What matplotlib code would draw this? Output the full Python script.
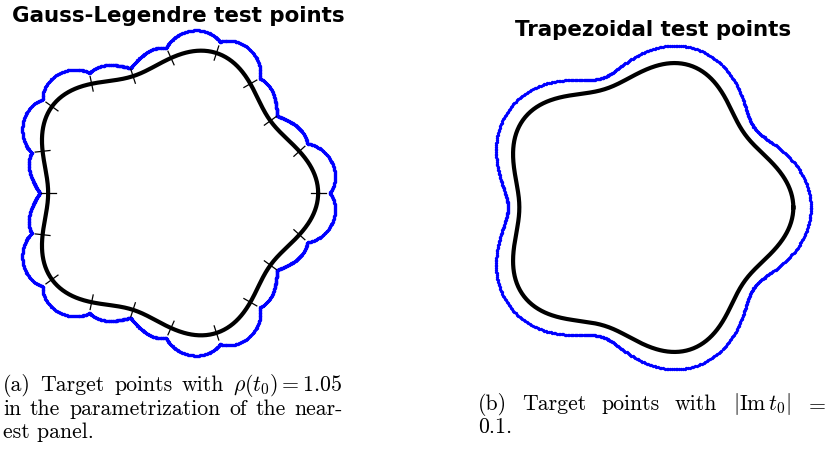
import matplotlib
matplotlib.use("Agg")
import matplotlib.pyplot as plt
import numpy as np
from matplotlib.path import Path
from matplotlib.transforms import Affine2D

# curve z(t) = (1 + amp*cos(lobes*t)) * exp(i t), split into equal panels
n_lobes = 5
lobe_amplitude = 0.09
n_panels = 20
panel_rho = 2.0        # ellipse size used for the Gauss-Legendre targets
trapz_im_t0 = 0.1      # |Im t0| for the trapezoidal targets

titles = ["Gauss-Legendre test points", "Trapezoidal test points"]
caption_a = [["(a)", "Target", "points", "with", r"$\rho(t_0) = 1.05$"],
             ["in", "the", "parametrization", "of", "the", "near-"],
             ["est panel."]]
caption_b = [["(b)", "Target", "points", "with", r"$|\mathrm{Im}\,t_0|$", r"$=$"],
             ["0.1."]]

plt.rcParams["mathtext.fontset"] = "cm"

W, H = 828, 453
fig = plt.figure(figsize=(W / 100, H / 100), dpi=100)
# pixel coordinates, origin top-left
px = Affine2D().scale(1 / W, -1 / H).translate(0, 1) + fig.transFigure
renderer = fig.canvas.get_renderer()


def curve(t):
    return (1 + lobe_amplitude * np.cos(n_lobes * t)) * np.exp(1j * t)


def curve_deriv(t):
    r = 1 + lobe_amplitude * np.cos(n_lobes * t)
    dr = -n_lobes * lobe_amplitude * np.sin(n_lobes * t)
    return (dr + 1j * r) * np.exp(1j * t)


def add_panel_axes(cx, cy, scale, half=1.25):
    size = 2 * half * scale
    ax = fig.add_axes([(cx - half * scale) / W, 1 - (cy + half * scale) / H, size / W, size / H])
    ax.set_xlim(-half, half)
    ax.set_ylim(-half, half)
    ax.axis("off")
    return ax


def text_width(s, **kw):
    t = fig.text(0, 0, s, transform=px, **kw)
    w = t.get_window_extent(renderer).width
    t.remove()
    return w


def put_line(words, x0, x1, y, justify=True, **kw):
    texts = [fig.text(0, y, w, transform=px, va="baseline", ha="left", **kw) for w in words]
    widths = [t.get_window_extent(renderer).width for t in texts]
    if justify and len(words) > 1:
        gap = (x1 - x0 - sum(widths)) / (len(words) - 1)
    else:
        gap = 0
    x = x0
    for t, w in zip(texts, widths):
        t.set_x(x)
        x += w + gap


t_fine = np.linspace(0, 2 * np.pi, 1000)
z_fine = curve(t_fine)

# --- left: Gauss-Legendre panels
ax1 = add_panel_axes(171, 193, 135)
edges = np.linspace(0, 2 * np.pi, n_panels + 1)
centers = 0.5 * (edges[:-1] + edges[1:])
half_len = np.pi / n_panels
A = (panel_rho + 1 / panel_rho) / 2
B = (panel_rho - 1 / panel_rho) / 2
phi = np.linspace(0, 2 * np.pi, 241)
s_ell = A * np.cos(phi) + 1j * B * np.sin(phi)
outer = np.sin(phi) < 0
images = [curve(tc + half_len * s_ell) for tc in centers]
polys = [Path(np.column_stack([z.real, z.imag])) for z in images]
for k in range(n_panels):
    z = images[k][outer]
    xy = np.column_stack([z.real, z.imag])
    keep = np.ones(len(z), bool)
    for j in (k - 1, (k + 1) % n_panels):
        keep &= ~polys[j].contains_points(xy)
    ax1.plot(z.real[keep], z.imag[keep], "o", color="blue", ms=2.4, mec="none")
ax1.plot(z_fine.real, z_fine.imag, color="black", lw=3, solid_capstyle="round")
for te in edges[:-1]:
    z0 = curve(te)
    d = curve_deriv(te)
    n = -1j * d / abs(d)
    seg = np.array([z0 - 0.055 * n, z0 + 0.055 * n])
    ax1.plot(seg.real, seg.imag, color="black", lw=0.9)

# --- right: trapezoidal, offset Im t0
ax2 = add_panel_axes(644, 207.5, 137)
t_pts = np.linspace(0, 2 * np.pi, 700)
zb = curve(t_pts - 1j * trapz_im_t0)
ax2.plot(zb.real, zb.imag, "o", color="blue", ms=2.4, mec="none")
ax2.plot(z_fine.real, z_fine.imag, color="black", lw=3)

# titles
title_kw = dict(ha="center", va="baseline", fontsize=15.4, fontweight="bold", family="DejaVu Sans")
fig.text(178, 22, titles[0], transform=px, **title_kw)
fig.text(653.5, 36, titles[1], transform=px, **title_kw)

# captions: size chosen so the second line of (a) fills about 332 px
w10 = text_width(" ".join(caption_a[1]), fontsize=10, family="cmr10")
cap = dict(fontsize=10 * 332 / w10, family="cmr10")
put_line(caption_a[0], 3, 343, 391, **cap)
put_line(caption_a[1], 3, 343, 415, **cap)
put_line(caption_a[2], 3, 343, 438, justify=False, **cap)
put_line(caption_b[0], 478, 827, 410, **cap)
put_line(caption_b[1], 478, 827, 433, justify=False, **cap)

fig.savefig("out.png", dpi=100)
